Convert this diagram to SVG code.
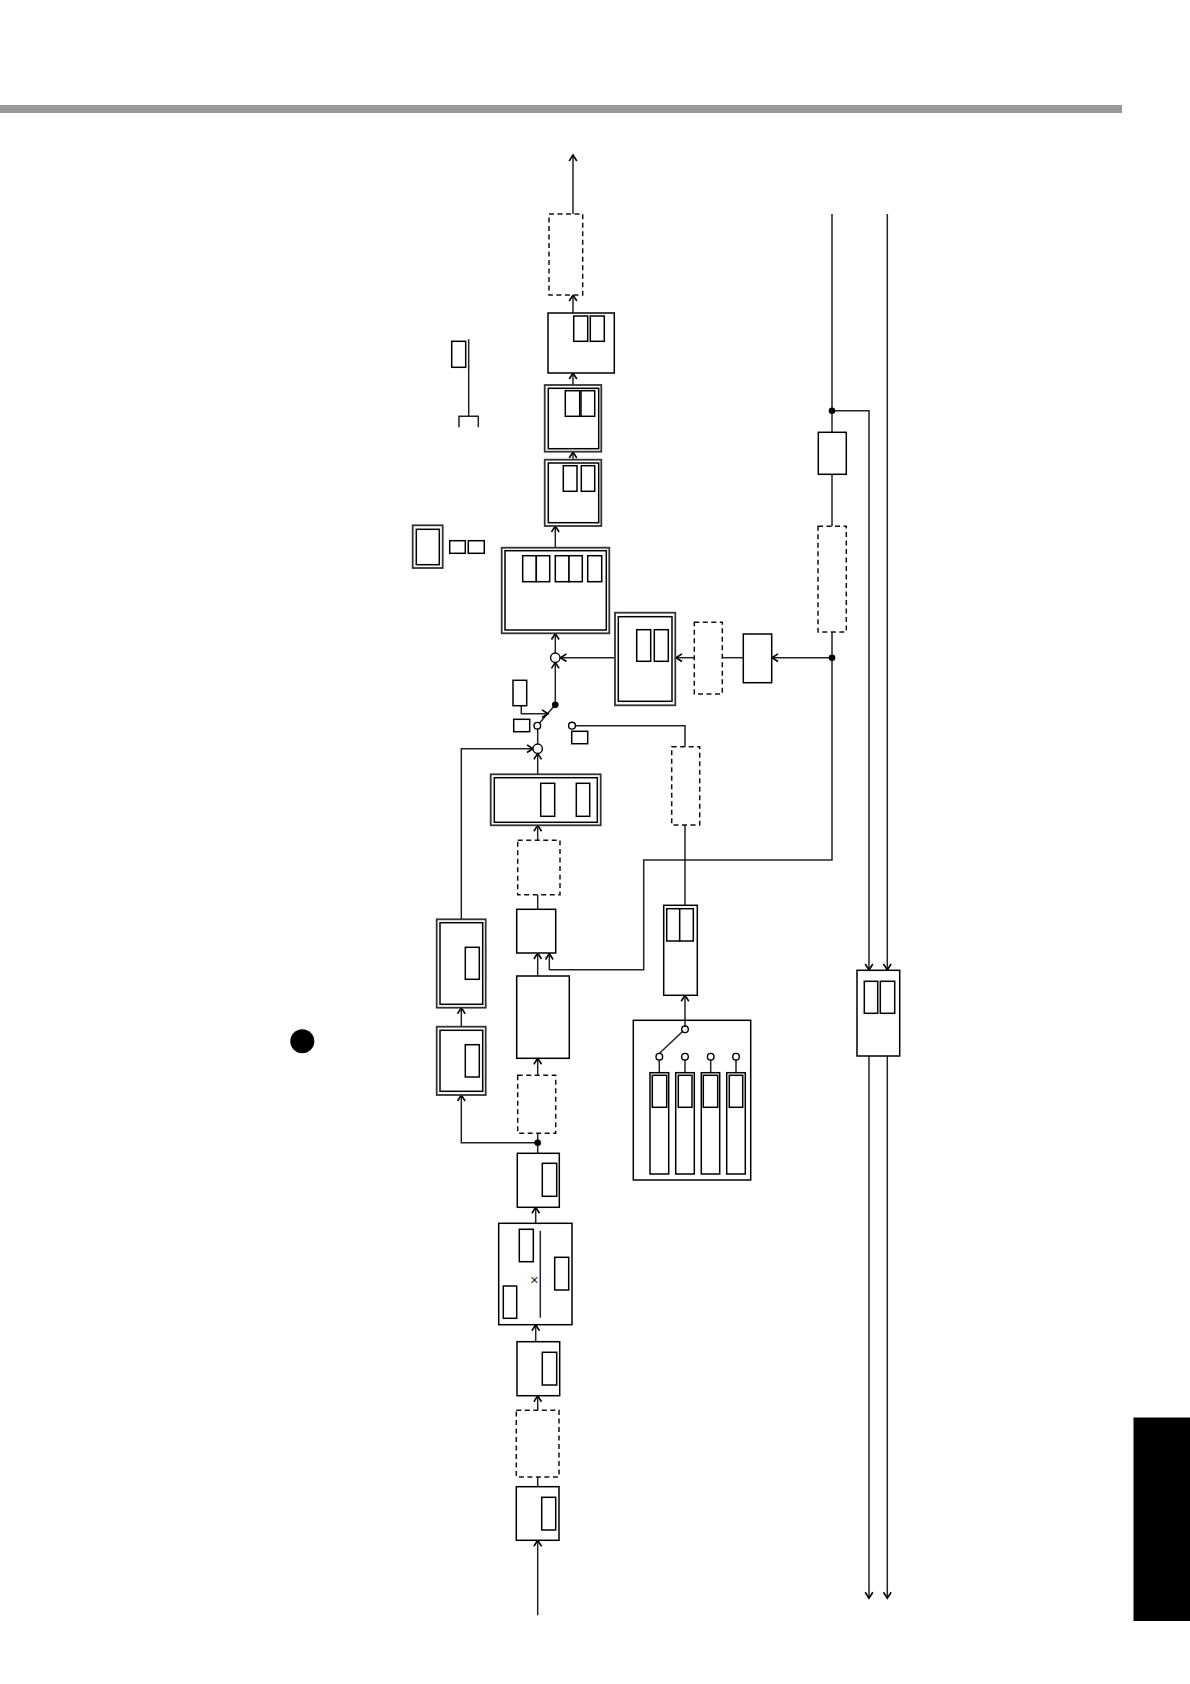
<svg xmlns="http://www.w3.org/2000/svg" width="1190" height="1684" viewBox="0 0 1190 1684">
<style>
.b{fill:#fff;stroke:#000;stroke-width:1.5}
.d{fill:#fff;stroke:#111;stroke-width:1.5;stroke-dasharray:5 3.5}
.o{fill:#fff;stroke:#333;stroke-width:1.8}
.c{fill:none;stroke:#222;stroke-width:1.5}
.a{fill:none;stroke:#222;stroke-width:1.5;marker-end:url(#ah)}
.dot{fill:#000}
.ring{fill:#fff;stroke:#000;stroke-width:1.4}
</style>
<defs>
<marker id="ah" markerUnits="userSpaceOnUse" markerWidth="12" markerHeight="12" refX="6.5" refY="6" orient="auto" overflow="visible">
<path d="M0.5,2.2 L6.5,6 L0.5,9.8" fill="none" stroke="#000" stroke-width="1.6"/>
</marker>
</defs>
<rect id="top-bar" x="0" y="105" width="1122" height="8" fill="#999"/>
<rect id="side-tab" x="1133.5" y="1417.5" width="56.5" height="203.5" fill="#000"/>
<circle id="bullet" cx="302.3" cy="1041.3" r="12" fill="#000"/>

<g id="connectors">
<path class="a" d="M573,214V155"/>
<path class="a" d="M573,313V295"/>
<path class="a" d="M573,385V373"/>
<path class="a" d="M573,460V452"/>
<path class="a" d="M555.3,548V526"/>
<path class="a" d="M555.3,658V633.5"/>
<path class="a" d="M615,657.7H560.5"/>
<path class="a" d="M694.5,657.7H676"/>
<path class="c" d="M743.5,657.7H722"/>
<path class="a" d="M832,657.7H772"/>
<path class="c" d="M832,214V860H643.7V969.7H549.3"/>
<path class="a" d="M549.3,970V953.5"/>
<path class="a" d="M832,410.7H869V970"/>
<path class="a" d="M869,1056V1598.3"/>
<path class="a" d="M887.3,214V970"/>
<path class="a" d="M887.3,1056V1598.3"/>
<path class="a" d="M555.3,704.7V662.4"/>
<path class="c" d="M555.3,704.7L539.5,723"/>
<path class="a" d="M521.3,705.7V713.7H548"/>
<path class="c" d="M575.5,725.7H685V746.7"/>
<path class="c" d="M685,825V905.3"/>
<path class="c" d="M537.7,744V729"/>
<path class="a" d="M461.3,919.3V748.7H533"/>
<path class="a" d="M537.7,774.3V753.4"/>
<path class="a" d="M537.7,840.3V825.3"/>
<path class="c" d="M537.7,894.7V909.3"/>
<path class="a" d="M537.7,976V953"/>
<path class="a" d="M537.7,1075.3V1058.3"/>
<path class="c" d="M537.7,1133.3V1153.3"/>
<path class="a" d="M537.7,1142.7H461.3V1095"/>
<path class="a" d="M461.3,1026.7V1007.7"/>
<path class="a" d="M685,1029.3V995.3"/>
<path class="a" d="M535.7,1223.3V1207.3"/>
<path class="a" d="M535.7,1341.7V1324.7"/>
<path class="a" d="M537.7,1410.3V1395.7"/>
<path class="c" d="M537.7,1477V1486.7"/>
<path class="a" d="M537.7,1615.3V1540.3"/>
<path class="c" d="M659.3,1053.5L682.5,1031.5"/>
<path class="c" d="M659.3,1060V1072.7M685,1060V1072.7M710.7,1060V1072.7M736,1060V1072.7"/>
<circle class="dot" cx="832" cy="657.7" r="3.3"/>
<circle class="dot" cx="832" cy="410.7" r="3.3"/>
<circle class="dot" cx="555.3" cy="704.7" r="3.3"/>
<circle class="dot" cx="537.7" cy="1142.7" r="3.3"/>
</g>

<g id="node-output-dashed"><rect class="d" x="549" y="214" width="33.7" height="81"/></g>
<g id="node-a"><rect class="b" x="548" y="313" width="66.3" height="60"/><rect class="b" x="573.7" y="316" width="14" height="25.3"/><rect class="b" x="590.3" y="316" width="14" height="25.3"/></g>
<g id="node-b"><rect class="o" x="544.7" y="385" width="56.6" height="66.7"/><rect class="b" x="548.3" y="388.3" width="50.4" height="60.4"/><rect class="b" x="565.3" y="390.7" width="14.4" height="25.6"/><rect class="b" x="581" y="390.7" width="13.7" height="25.6"/></g>
<g id="node-c"><rect class="o" x="544.7" y="459.7" width="56.6" height="66.3"/><rect class="b" x="548.3" y="463" width="50.4" height="59.7"/><rect class="b" x="563.3" y="465.7" width="13.7" height="25.6"/><rect class="b" x="581.3" y="465.7" width="13.4" height="25.6"/></g>
<g id="legend-line"><rect class="b" x="451.7" y="341.3" width="14" height="26"/><path class="c" d="M468.7,339.3V416.3M459,427.3V416.3H478.3V427.3"/></g>
<g id="legend-box"><rect class="o" x="412.7" y="525.3" width="30" height="42.7"/><rect class="b" x="416.3" y="529.3" width="23" height="35.4"/><rect class="b" x="449.7" y="540.7" width="15.6" height="12.6"/><rect class="b" x="468.3" y="540.7" width="16" height="12.6"/></g>
<g id="node-d"><rect class="o" x="501.7" y="547.7" width="107.6" height="85.6"/><rect class="b" x="505" y="550.7" width="101.3" height="79.3"/><rect class="b" x="522.7" y="555.7" width="13.6" height="26"/><rect class="b" x="536.3" y="555.7" width="13.4" height="26"/><rect class="b" x="555.3" y="555.7" width="13.7" height="26"/><rect class="b" x="569" y="555.7" width="13.3" height="26"/><rect class="b" x="587.7" y="555.7" width="14" height="26"/></g>
<g id="node-e"><rect class="o" x="615" y="612.7" width="60.3" height="92.6"/><rect class="b" x="618.3" y="616.7" width="53.7" height="84.6"/><rect class="b" x="636.7" y="629.7" width="14" height="31.6"/><rect class="b" x="654.3" y="629.7" width="14" height="31.6"/></g>
<g id="node-f-dashed"><rect class="d" x="694.3" y="622.3" width="28" height="71.7"/></g>
<g id="node-g"><rect class="b" x="743.3" y="634" width="28.4" height="48.7"/></g>
<g id="node-h-dashed"><rect class="d" x="818" y="526.3" width="28.3" height="105.7"/></g>
<g id="node-i"><rect class="b" x="818.3" y="432.3" width="28" height="42"/></g>
<g id="node-j"><rect class="b" x="857" y="970.3" width="42.7" height="85.7"/><rect class="b" x="864.3" y="981.3" width="13.4" height="32"/><rect class="b" x="880.3" y="981.3" width="14.4" height="32"/></g>
<g id="junction-upper"><circle class="ring" cx="555.3" cy="657.7" r="4.7"/></g>
<g id="junction-lower"><circle class="ring" cx="537.7" cy="748.7" r="4.7"/></g>
<g id="switch"><circle class="ring" cx="537.3" cy="725.7" r="3.3"/><circle class="ring" cx="572" cy="725.7" r="3.4"/><rect class="b" x="513" y="680.3" width="13.7" height="25.4"/><rect class="b" x="513.7" y="719.3" width="16" height="12.4"/><rect class="b" x="571.7" y="731.3" width="16" height="12.4"/></g>
<g id="node-k-dashed"><rect class="d" x="671.7" y="746.7" width="28" height="78.3"/></g>
<g id="node-l"><rect class="o" x="490.7" y="774.3" width="110" height="51"/><rect class="b" x="494.3" y="777.7" width="103" height="44.6"/><rect class="b" x="540.7" y="783.3" width="14" height="33"/><rect class="b" x="576.3" y="783.3" width="13.4" height="33"/></g>
<g id="node-m-dashed"><rect class="d" x="517.7" y="840.3" width="42.3" height="54.4"/></g>
<g id="node-n"><rect class="b" x="516.7" y="909.3" width="39" height="43.7"/></g>
<g id="node-o"><rect class="b" x="516.7" y="976" width="52.6" height="82.3"/></g>
<g id="node-p-dashed"><rect class="d" x="517.7" y="1075.3" width="38" height="58"/></g>
<g id="node-q"><rect class="o" x="436.7" y="919.3" width="49" height="88.4"/><rect class="b" x="440" y="922.7" width="42.7" height="81.6"/><rect class="b" x="465.3" y="947.3" width="14" height="32"/></g>
<g id="node-r"><rect class="o" x="436.7" y="1026.7" width="49" height="68.3"/><rect class="b" x="440" y="1030.3" width="42.7" height="61"/><rect class="b" x="465.3" y="1044.7" width="14" height="32.3"/></g>
<g id="node-s"><rect class="b" x="663.7" y="905.3" width="33.6" height="90"/><rect class="b" x="666.7" y="908.7" width="13" height="32.3"/><rect class="b" x="679.7" y="908.7" width="13.6" height="32.3"/></g>
<g id="node-selector"><rect fill="none" stroke="#000" stroke-width="1.5" x="633.3" y="1020.3" width="117.4" height="159.7"/>
<rect class="b" x="650" y="1072.7" width="18.7" height="101.3"/><rect class="b" x="675.7" y="1072.7" width="18.6" height="101.3"/><rect class="b" x="701.3" y="1072.7" width="18.4" height="101.3"/><rect class="b" x="726.7" y="1072.7" width="18.6" height="101.3"/>
<rect class="b" x="652.3" y="1075.3" width="14.4" height="32"/><rect class="b" x="678.3" y="1075.3" width="13.7" height="32"/><rect class="b" x="703.3" y="1075.3" width="14.4" height="32"/><rect class="b" x="729.3" y="1075.3" width="13.4" height="32"/>
<circle class="ring" cx="685" cy="1029.3" r="3.3"/><circle class="ring" cx="659.3" cy="1056.7" r="3.3"/><circle class="ring" cx="685" cy="1056.7" r="3.3"/><circle class="ring" cx="710.7" cy="1056.7" r="3.3"/><circle class="ring" cx="736" cy="1056.7" r="3.3"/></g>
<g id="node-t"><rect class="b" x="517.3" y="1153.3" width="42" height="54"/><rect class="b" x="542.3" y="1163.3" width="14.4" height="33"/></g>
<g id="node-u"><rect class="b" x="498.7" y="1223.3" width="73.3" height="101.4"/><rect class="b" x="519.3" y="1229.3" width="14" height="32.4"/><rect class="b" x="554.7" y="1257.3" width="14" height="32.7"/><rect class="b" x="503.3" y="1286" width="13.4" height="32.3"/><path class="c" d="M540.3,1231V1317.7"/><text x="534.3" y="1285" font-family="'Liberation Sans',sans-serif" font-size="14" text-anchor="middle" fill="#222">×</text></g>
<g id="node-v"><rect class="b" x="517" y="1341.7" width="42.7" height="54"/><rect class="b" x="542.3" y="1352.3" width="14.4" height="32.7"/></g>
<g id="node-w-dashed"><rect class="d" x="516.3" y="1410.3" width="42.7" height="66.7"/></g>
<g id="node-x"><rect class="b" x="516.3" y="1486.7" width="42.7" height="53.6"/><rect class="b" x="541.7" y="1497.3" width="14" height="32.7"/></g>
</svg>
